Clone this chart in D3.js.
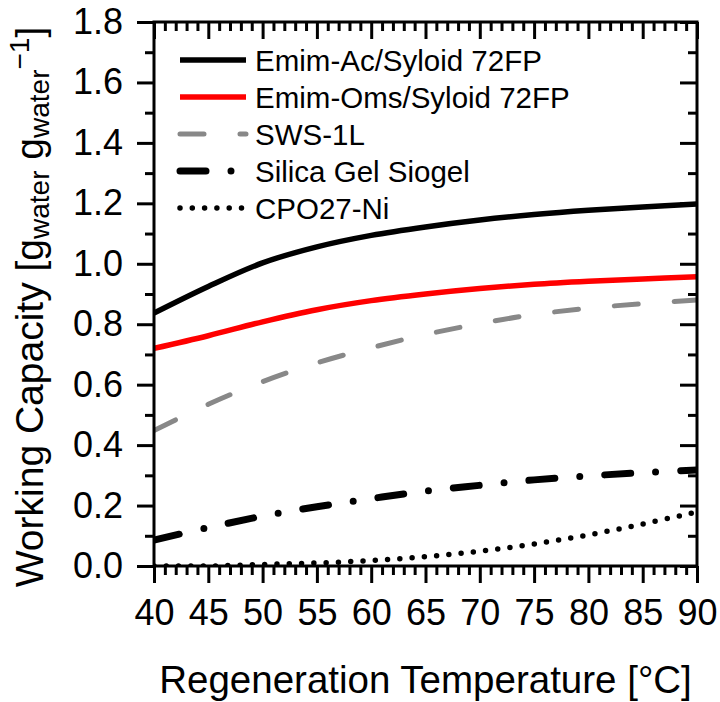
<!DOCTYPE html>
<html><head><meta charset="utf-8">
<script src="https://cdn.jsdelivr.net/npm/d3@7"></script>
<style>body{margin:0;background:#fff} svg{display:block}</style>
</head><body>
<svg id="c" width="720" height="702"></svg>
<script>
// ---- data ----
const temperatures = [40,45,50,55,60,65,70,75,80,85,90];
const emimAc    = [0.837,0.925,1.003,1.056,1.094,1.122,1.145,1.163,1.177,1.188,1.198];
const emimOms   = [0.720,0.762,0.808,0.848,0.878,0.900,0.918,0.932,0.942,0.950,0.957];
const sws1l     = [0.448,0.535,0.610,0.672,0.722,0.766,0.802,0.832,0.853,0.868,0.880];
const silicaGel = [0.086,0.127,0.165,0.196,0.223,0.248,0.267,0.285,0.298,0.309,0.318];
const cpo27Ni   = [0.000,0.000,0.005,0.010,0.018,0.031,0.049,0.073,0.103,0.139,0.179];
const seriesNames = ["Emim-Ac/Syloid 72FP","Emim-Oms/Syloid 72FP","SWS-1L","Silica Gel Siogel","CPO27-Ni"];
const xTickLabels = [40,45,50,55,60,65,70,75,80,85,90];
const yTickLabels = [0.0,0.2,0.4,0.6,0.8,1.0,1.2,1.4,1.6,1.8];
const xMinorTicks = d3.range(40,91,1);
const yMinorTicks = d3.range(0,1.81,0.1).map(v=>+v.toFixed(1));

// ---- styles ----
const styles = [
  {color:"#000000", width:5.5, dash:null, cap:"butt"},
  {color:"#ff0000", width:5.5, dash:null, cap:"butt"},
  {color:"#888888", width:5,   dash:"24,36", cap:"round"},
  {color:"#000000", width:7,   dash:"26,25,0,25", cap:"round"},
  {color:"#000000", width:5.5, dash:"0,12.3", cap:"round"}
];
const seriesValues = [emimAc, emimOms, sws1l, silicaGel, cpo27Ni];

const FONT = "'Liberation Sans', Arial, Helvetica, sans-serif";
const L = 154, R = 697, T = 22, B = 566;
const svg = d3.select("#c").style("font-family", FONT);

const x = d3.scaleLinear().domain([40,90]).range([L,R]);
const y = d3.scaleLinear().domain([0,1.8]).range([B,T]);

// clip
svg.append("clipPath").attr("id","clip").append("rect")
  .attr("x",L).attr("y",T).attr("width",R-L).attr("height",B-T);

// lines
const line = d3.line().x((d,i)=>x(temperatures[i])).y(d=>y(d)).curve(d3.curveCatmullRom.alpha(0.5));
const gl = svg.append("g").attr("clip-path","url(#clip)");
seriesValues.forEach((vals,k)=>{
  const s = styles[k];
  gl.append("path").datum(vals).attr("d", line)
    .attr("fill","none").attr("stroke", s.color).attr("stroke-width", s.width)
    .attr("stroke-linecap", s.cap).attr("stroke-linejoin","round")
    .attr("stroke-dasharray", s.dash);
});

// axes
function styleAxis(g){
  g.select(".domain").remove();
  g.selectAll(".tick line").attr("stroke","#000").attr("stroke-width",3);
}
const MAJ = 17, MIN = 9;
// bottom
svg.append("g").attr("transform",`translate(0,${B})`)
  .call(d3.axisBottom(x).tickValues(xMinorTicks.filter(v=>v%5!==0)).tickSize(MIN).tickFormat(""))
  .call(styleAxis);
const gx = svg.append("g").attr("transform",`translate(0,${B})`)
  .call(d3.axisBottom(x).tickValues(xTickLabels).tickSize(MAJ).tickPadding(16).tickFormat(d3.format("d")))
  .call(styleAxis);
gx.selectAll("text").attr("font-size",36).attr("font-family",FONT).attr("fill","#000");
// top (inward)
svg.append("g").attr("transform",`translate(0,${T})`)
  .call(d3.axisBottom(x).tickValues(xMinorTicks.filter(v=>v%5!==0)).tickSize(MIN).tickFormat(""))
  .call(styleAxis);
svg.append("g").attr("transform",`translate(0,${T})`)
  .call(d3.axisBottom(x).tickValues(xTickLabels).tickSize(MAJ).tickFormat(""))
  .call(styleAxis);
// left
svg.append("g").attr("transform",`translate(${L},0)`)
  .call(d3.axisLeft(y).tickValues(yMinorTicks.filter((v,i)=>i%2===1)).tickSize(MIN).tickFormat(""))
  .call(styleAxis);
const gy = svg.append("g").attr("transform",`translate(${L},0)`)
  .call(d3.axisLeft(y).tickValues(yTickLabels).tickSize(MAJ).tickPadding(14).tickFormat(d3.format(".1f")))
  .call(styleAxis);
gy.selectAll("text").attr("font-size",36).attr("font-family",FONT).attr("fill","#000");
// right (inward)
svg.append("g").attr("transform",`translate(${R},0)`)
  .call(d3.axisLeft(y).tickValues(yMinorTicks.filter((v,i)=>i%2===1)).tickSize(MIN).tickFormat(""))
  .call(styleAxis);
svg.append("g").attr("transform",`translate(${R},0)`)
  .call(d3.axisLeft(y).tickValues(yTickLabels).tickSize(MAJ).tickFormat(""))
  .call(styleAxis);

// frame
svg.append("rect").attr("x",L).attr("y",T).attr("width",R-L).attr("height",B-T)
  .attr("fill","none").attr("stroke","#000").attr("stroke-width",3);

// legend
const lg = svg.append("g");
seriesNames.forEach((name,k)=>{
  const s = styles[k];
  const yy = 60 + k*37;
  lg.append("line").attr("x1",180).attr("x2",246).attr("y1",yy).attr("y2",yy)
    .attr("stroke", s.color).attr("stroke-width", s.width)
    .attr("stroke-linecap", s.cap).attr("stroke-dasharray", s.dash);
  lg.append("text").attr("x",255).attr("y",yy+10.5).attr("font-size",29.5).text(name);
});

// x title
svg.append("text").attr("x",(L+R)/2).attr("y",693).attr("text-anchor","middle")
  .attr("font-size",38.5).text("Regeneration Temperature [°C]");

// y title
const yt = svg.append("text").attr("transform",`translate(43,307) rotate(-90)`)
  .attr("text-anchor","middle").attr("font-size",39);
yt.append("tspan").text("Working Capacity [g");
yt.append("tspan").attr("font-size",28).attr("dy",6).text("water");
yt.append("tspan").attr("dy",-6).text(" g");
yt.append("tspan").attr("font-size",28).attr("dy",6).text("water");
yt.append("tspan").attr("font-size",28).attr("dy",-20).text("\u22121");
yt.append("tspan").attr("dy",14).text("]");
</script>
</body></html>
